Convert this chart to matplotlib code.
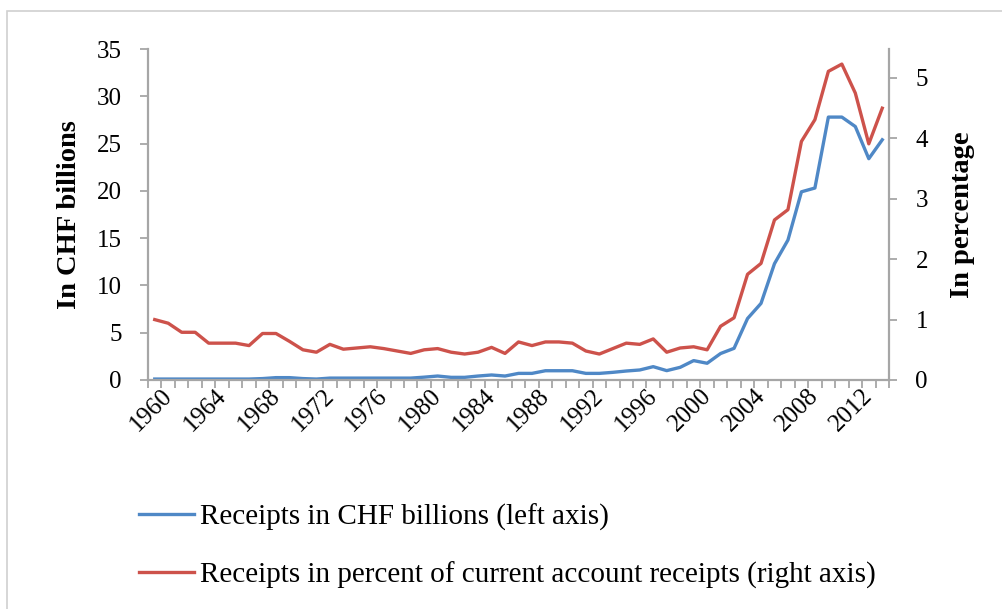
import matplotlib
matplotlib.use("Agg")
import matplotlib.pyplot as plt
from matplotlib.patches import Rectangle
from matplotlib.transforms import ScaledTranslation

years = list(range(1960, 2015))

receipts_chf = [0.1, 0.1, 0.1, 0.1, 0.1, 0.1, 0.1, 0.1, 0.15, 0.25,
                0.25, 0.15, 0.1, 0.2, 0.2, 0.2, 0.2, 0.2, 0.2, 0.2,
                0.3, 0.42, 0.28, 0.28, 0.42, 0.53, 0.42, 0.7, 0.7, 0.98,
                0.98, 0.98, 0.7, 0.7, 0.81, 0.95, 1.06, 1.41, 0.99, 1.34,
                2.05, 1.77, 2.8, 3.35, 6.5, 8.1, 12.3, 14.8, 19.9, 20.3,
                27.8, 27.8, 26.8, 23.4, 25.4]

receipts_pct = [1.0, 0.94, 0.79, 0.79, 0.61, 0.61, 0.61, 0.57, 0.77, 0.77,
                0.64, 0.50, 0.46, 0.59, 0.51, 0.53, 0.55, 0.52, 0.48, 0.44,
                0.50, 0.52, 0.46, 0.43, 0.46, 0.54, 0.44, 0.63, 0.57, 0.63,
                0.63, 0.61, 0.48, 0.43, 0.52, 0.61, 0.59, 0.68, 0.46, 0.53,
                0.55, 0.50, 0.89, 1.03, 1.75, 1.93, 2.65, 2.82, 3.95, 4.31,
                5.11, 5.23, 4.75, 3.91, 4.50]

left_ticks = [0, 5, 10, 15, 20, 25, 30, 35]
right_ticks = [0, 1, 2, 3, 4, 5]
year_labels = [str(y) for y in range(1960, 2015, 4)]

label_left = "In CHF billions"
label_right = "In percentage"
legend_blue = "Receipts in CHF billions (left axis)"
legend_red = "Receipts in percent of current account receipts (right axis)"

BLUE = "#4F88C6"
RED = "#CD524B"
GRAY = "#A6A6A6"

plt.rcParams['font.family'] = ['Liberation Serif', 'DejaVu Serif']

W, H = 1003, 609
fig = plt.figure(figsize=(W / 100, H / 100), dpi=100)
fig.patch.set_facecolor("white")

# outer chart-area border (extends beyond right and bottom edges)
fig.add_artist(Rectangle((7 / W, -0.2), 1.2, 1.2 - 11 / H, transform=fig.transFigure,
                         fill=False, edgecolor="#D0D0D0", linewidth=1.2))

x0, x1 = 148, 889
y0, y1 = 49, 380
ax = fig.add_axes([x0 / W, 1 - y1 / H, (x1 - x0) / W, (y1 - y0) / H])
ax2 = ax.twinx()

idx = list(range(len(years)))
l1, = ax.plot(idx, receipts_chf, color=BLUE, lw=2.4, solid_joinstyle="round")
l2, = ax2.plot(idx, receipts_pct, color=RED, lw=2.4, solid_joinstyle="round")

ax.set_xlim(-0.5, len(years) - 0.5)
ax.set_ylim(0, 35)
ax2.set_ylim(0, 5.48)

ax.set_yticks(left_ticks)
ax2.set_yticks(right_ticks)
ax.set_yticklabels([str(t) for t in left_ticks])
ax2.set_yticklabels([str(t) for t in right_ticks])

major = [years.index(int(y)) for y in year_labels]
ax.set_xticks(major)
ax.set_xticklabels(year_labels, rotation=45, ha="right", va="center",
                   rotation_mode="anchor")
ax.set_xticks([i - 0.5 for i in range(len(years) + 1)], minor=True)
ax.tick_params(axis="x", which="major", length=0, pad=9, labelsize=18)
ax.tick_params(axis="x", which="minor", length=6, width=1.3, color=GRAY, direction="out")
shift = ScaledTranslation(14 / 100, 0, fig.dpi_scale_trans)
for lab in ax.get_xticklabels():
    lab.set_transform(lab.get_transform() + shift)

ax.tick_params(axis="y", length=6, width=1.3, color=GRAY, labelsize=18, pad=13)
ax2.tick_params(axis="y", length=6, width=1.3, color=GRAY, labelsize=18, pad=13)

for a in (ax, ax2):
    a.spines["top"].set_visible(False)
    for s in ("left", "right", "bottom"):
        a.spines[s].set_color(GRAY)
        a.spines[s].set_linewidth(1.6)
ax.spines["right"].set_visible(False)
ax2.spines["left"].set_visible(False)
ax2.spines["bottom"].set_visible(False)

ax.set_ylabel(label_left, fontsize=20.5, fontweight="bold")
ax.yaxis.set_label_coords(-0.089, 0.5)
ax2.set_ylabel(label_right, fontsize=20.5, fontweight="bold", rotation=90)
ax2.yaxis.set_label_coords(1.082, 0.5)

fig.legend([l1, l2], [legend_blue, legend_red], loc="center left",
           bbox_to_anchor=(139 / W, 1 - 546 / H), frameon=False,
           fontsize=21, handlelength=1.9, handletextpad=0.18,
           labelspacing=1.05, borderpad=0, borderaxespad=0)

fig.savefig("out.png", dpi=100, facecolor="white")
